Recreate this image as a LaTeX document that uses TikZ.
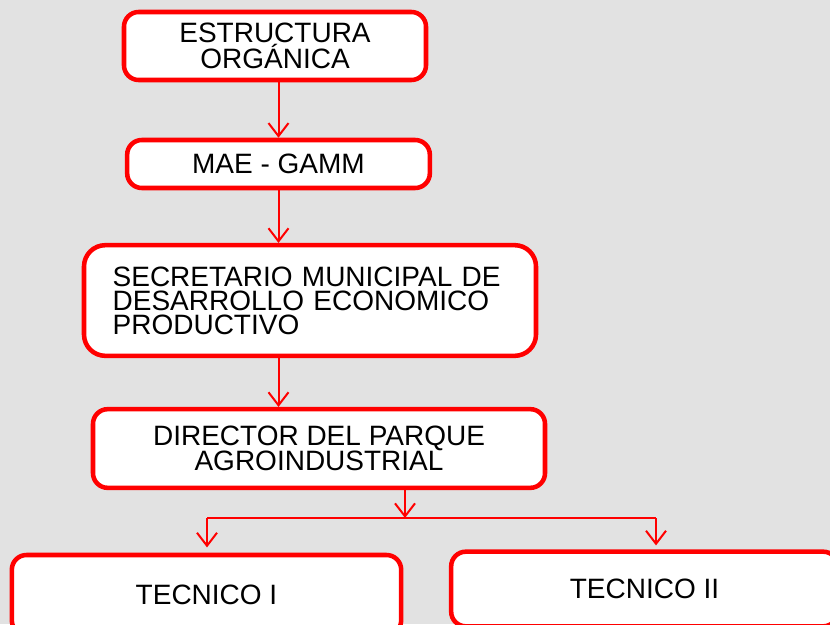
\documentclass[tikz,border=0pt]{standalone}
\usepackage{fontspec}
\setmainfont{Liberation Sans}
\usepackage{tikz}
\usetikzlibrary{
  arrows.meta,
  positioning
}
\definecolor{orgred}{RGB}{255,0,0}
\definecolor{paper}{RGB}{226,226,226}
\tikzset{
  orgbox/.style={draw=orgred, line width=3.4pt, rounded corners=11pt,
    fill=white, align=center, inner sep=0pt,
    font=\fontsize{21}{20}\selectfont},
  arr/.style={-{Straight Barb[length=9.75pt, width=15pt, line width=1.5pt]},
    draw=orgred, line width=1.5pt},
  link/.style={draw=orgred, line width=1.1pt},
}

\begin{document}
\begin{tikzpicture}[x=0.75pt, y=-0.75pt]
  \useasboundingbox (0,0) rectangle (830,624);
  \clip (0,0) rectangle (830,624);
  \fill[paper] (0,0) rectangle (830,624);

  \node[orgbox, minimum width=226.5pt, minimum height=51pt] (estr) at (275,46)
    {ESTRUCTURA\\ORGÁNICA};
  \node[orgbox, minimum width=227pt, minimum height=36pt] (mae) at (278.5,164)
    {MAE - GAMM};
  \node[orgbox, rounded corners=16pt, minimum height=83pt, text width=296pt,
        inner xsep=21.5pt, align=left, font=\fontsize{21}{18}\selectfont]
    (sec) at (310,300.5)
    {SECRETARIO MUNICIPAL DE\\DESARROLLO ECONOMICO\\PRODUCTIVO};
  \node[orgbox, minimum width=339pt, minimum height=59pt,
        font=\fontsize{21}{19}\selectfont] (dir) at (319,448.5)
    {DIRECTOR DEL PARQUE\\AGROINDUSTRIAL};
  \node[orgbox, minimum width=292pt, minimum height=60pt] (tec1) at (206.5,595)
    {TECNICO I};
  \node[orgbox, minimum width=290pt, minimum height=56pt] (tec2) at (644.5,589)
    {TECNICO II};

  \draw[arr] (estr.south -| mae.north) -- (mae.north);
  \draw[arr] (mae.south) -- (mae.south |- sec.north);
  \draw[arr] (sec.south -| mae.south) -- (dir.north -| mae.south);

  % reparto hacia los tecnicos
  \coordinate (split) at (405,518);
  \coordinate (left) at (207,518);
  \coordinate (right) at (656,518);
  \draw[arr] (dir.south -| split) -- (split);
  \draw[link] (left) -- (right);
  \draw[arr, shorten >=4pt] (left) -- (left |- tec1.north);
  \draw[arr, shorten >=3pt] (right) -- (right |- tec2.north);
\end{tikzpicture}
\end{document}
